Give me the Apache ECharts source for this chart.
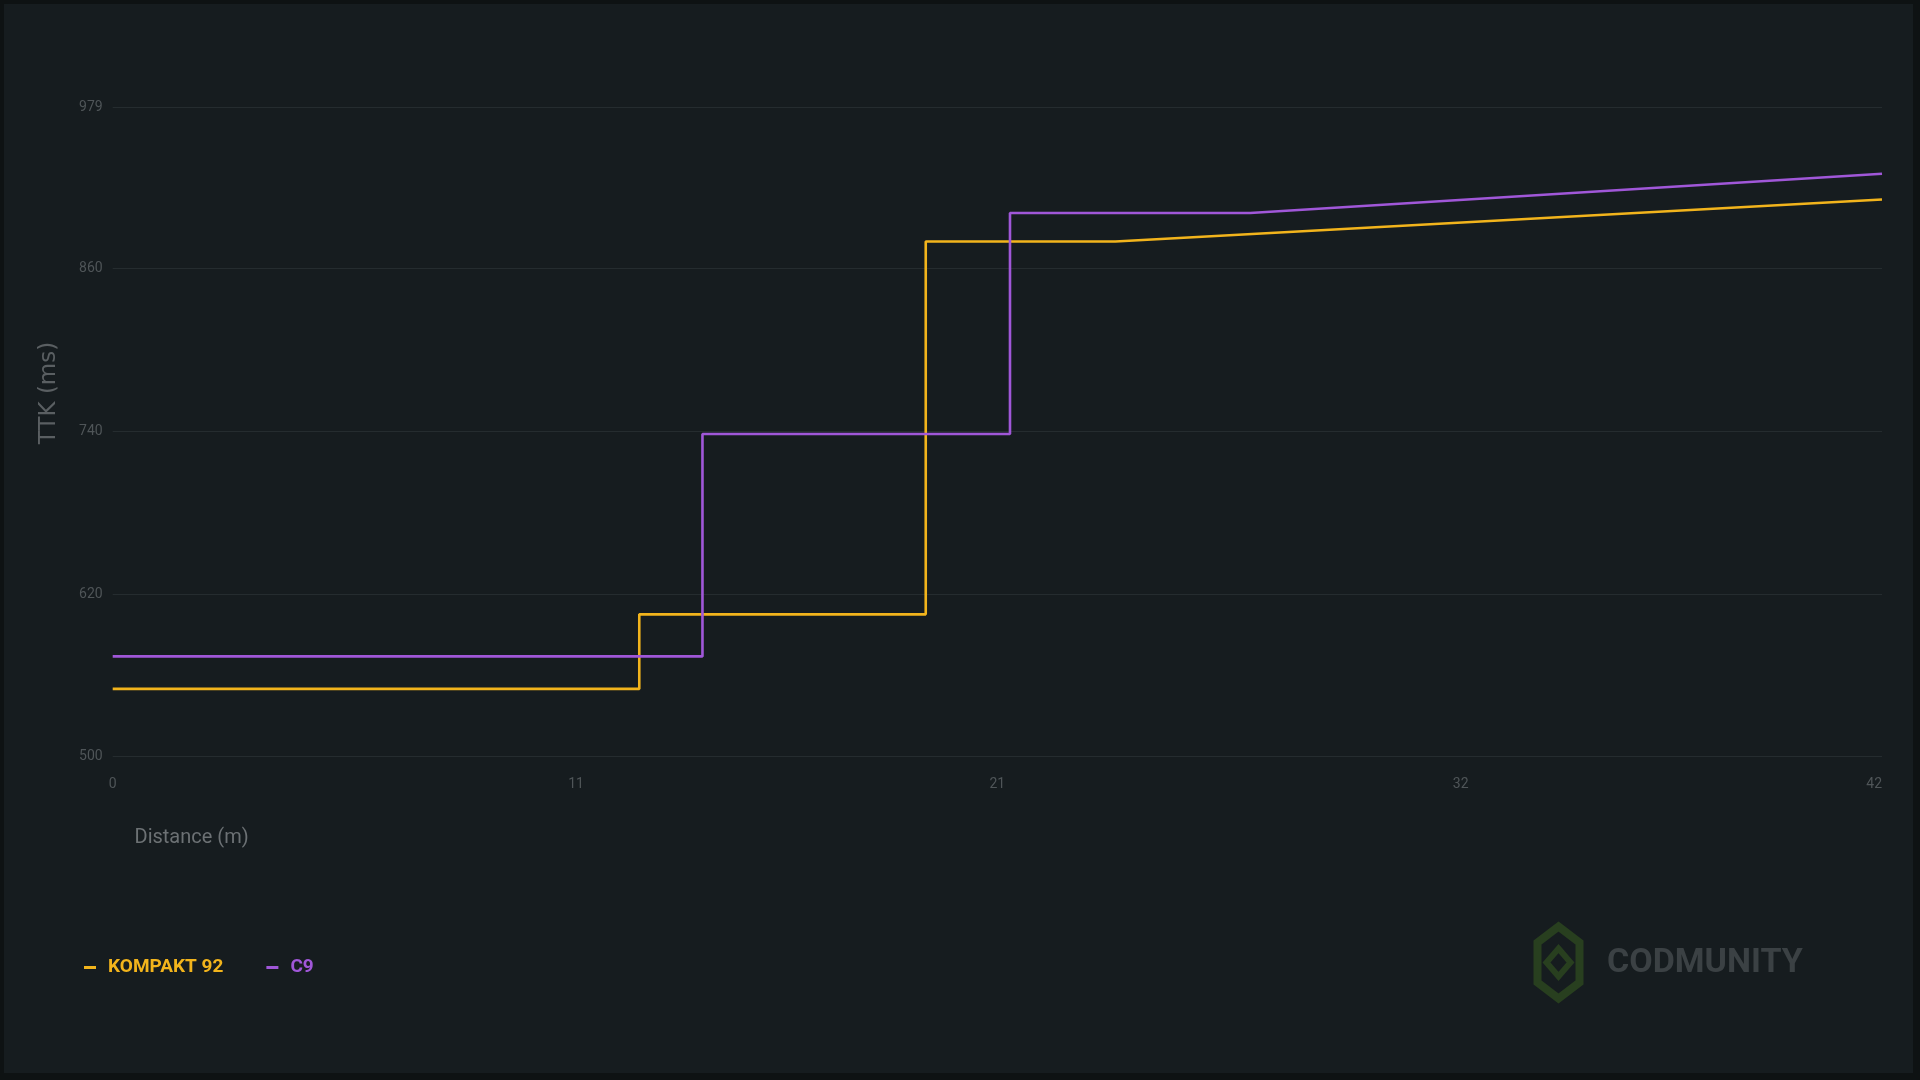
<!DOCTYPE html>
<html>
<head>
<meta charset="utf-8">
<script src="https://cdn.jsdelivr.net/npm/echarts@6/dist/echarts.min.js"></script>
<style>
  html, body { margin: 0; padding: 0; width: 1920px; height: 1080px; background: #0e1213; overflow: hidden; }
  #chart { position: absolute; left: 4px; top: 4px; width: 1909px; height: 1069px; background: #161c1f; }
</style>
</head>
<body>
<div id="chart"></div>
<script>
// ---- data ----
const seriesNames = ['KOMPAKT 92', 'C9'];
const kompaktX = [0, 12.5, 12.5, 19.3, 19.3, 23.8, 42];
const kompaktY = [550, 550, 605, 605, 880, 880, 911];
const c9X = [0, 14, 14, 21.3, 21.3, 27, 42];
const c9Y = [574, 574, 738, 738, 901, 901, 930];
const xTicks = [0, 11, 21, 32, 42];
const yTicks = [500, 620, 740, 860, 979];
const xName = 'Distance (m)';
const yName = 'TTK (ms)';
const watermark = 'CODMUNITY';

const colors = ['#f2b41c', '#a057d8'];
const narrow = 'Roboto, "Liberation Sans", sans-serif';

function pairs(xs, ys) { return xs.map((x, i) => [x, ys[i]]); }

const chart = echarts.init(document.getElementById('chart'));
const cx = 1554.5, cy = 958.5;
chart.setOption({
  backgroundColor: 'transparent',
  animation: false,
  grid: { left: 108.7, right: 31, top: 103.3, bottom: 316.3, containLabel: false },
  xAxis: {
    type: 'value', min: 0, max: 42,
    axisLine: { show: false },
    axisTick: { show: false, customValues: xTicks },
    splitLine: { show: false },
    axisLabel: { customValues: xTicks, color: '#4f5558', fontSize: 14, fontFamily: narrow, margin: 21, alignMaxLabel: 'right' }
  },
  yAxis: {
    type: 'value', min: 500, max: 979,
    axisLine: { show: false },
    axisTick: { show: false, customValues: yTicks },
    splitLine: { show: true, lineStyle: { color: '#252c2f', width: 1.2 } },
    axisLabel: { customValues: yTicks, color: '#4f5558', fontSize: 14, fontFamily: narrow, margin: 10 }
  },
  legend: {
    left: 75, top: 949, orient: 'horizontal', itemWidth: 12, itemHeight: 3, itemGap: 43,
    icon: 'rect',
    data: [
      { name: seriesNames[0], textStyle: { color: colors[0] } },
      { name: seriesNames[1], textStyle: { color: colors[1] } }
    ],
    textStyle: { fontSize: 19, fontWeight: 'bold', fontFamily: narrow, padding: [0, 0, 0, 7] }
  },
  graphic: [
    { type: 'text', left: 130.5, top: 824, style: { text: xName, fill: '#6c7174', font: '20px ' + narrow } },
    { type: 'text', x: 45, y: 389, rotation: Math.PI / 2,
      style: { text: yName, fill: '#5a5f62', font: '23px "DejaVu Sans", sans-serif', align: 'center', verticalAlign: 'middle' } },
    { type: 'text', x: 1603, y: 959,
      style: { text: watermark, fill: '#3b4144', font: 'bold 34px ' + narrow, verticalAlign: 'middle' } },
    { type: 'polygon', shape: { points: [[cx, cy - 36], [cx + 21, cy - 20], [cx + 21, cy + 20], [cx, cy + 36], [cx - 21, cy + 20], [cx - 21, cy - 20]] },
      style: { fill: 'none', stroke: '#283f1f', lineWidth: 8 } },
    { type: 'polygon', shape: { points: [[cx, cy - 14], [cx + 12, cy], [cx, cy + 14], [cx - 12, cy]] },
      style: { fill: 'none', stroke: '#283f1f', lineWidth: 6 } }
  ],
  series: [
    { name: seriesNames[0], type: 'line', data: pairs(kompaktX, kompaktY), showSymbol: false, symbol: 'none',
      lineStyle: { color: colors[0], width: 2.6 }, itemStyle: { color: colors[0] } },
    { name: seriesNames[1], type: 'line', data: pairs(c9X, c9Y), showSymbol: false, symbol: 'none',
      lineStyle: { color: colors[1], width: 2.6 }, itemStyle: { color: colors[1] } }
  ]
});
</script>
</body>
</html>
